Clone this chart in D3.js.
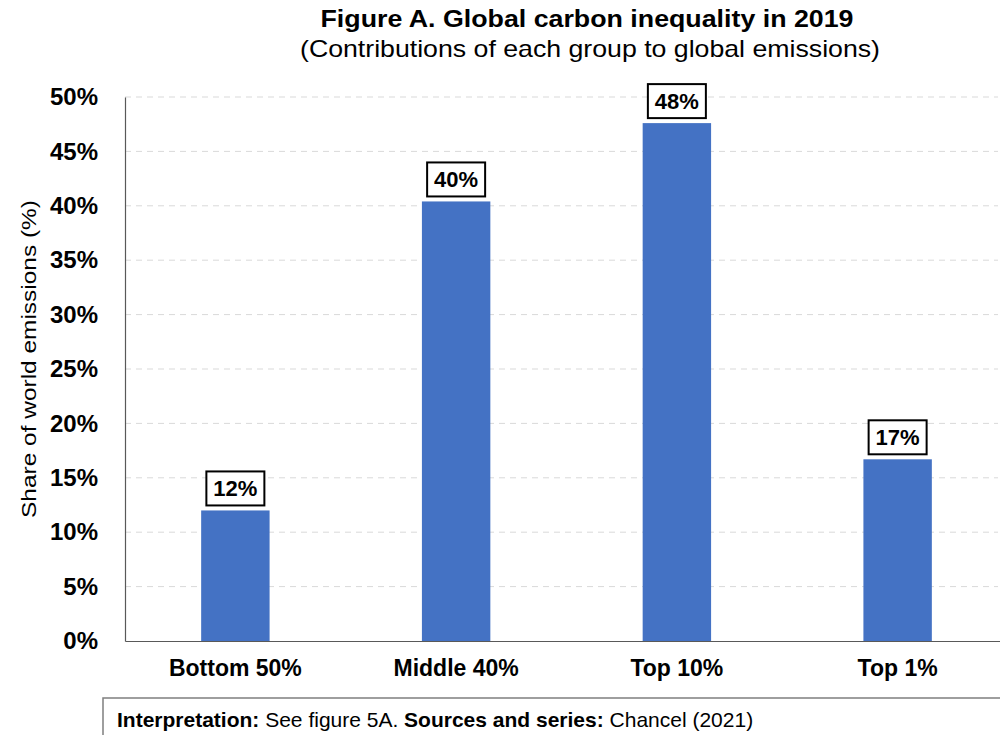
<!DOCTYPE html>
<html>
<head>
<meta charset="utf-8">
<script src="https://cdn.jsdelivr.net/npm/d3@7"></script>
<style>
  body { margin: 0; background: #fff; }
  svg { font-family: "Liberation Sans", Arial, sans-serif; }
</style>
</head>
<body>
<div id="chart"></div>
<script>
// data
var groups = ['Bottom 50%', 'Middle 40%', 'Top 10%', 'Top 1%'];
var shares = [12.0, 40.4, 47.6, 16.7];
var valueLabels = ['12%', '40%', '48%', '17%'];
var yTicks = [0, 5, 10, 15, 20, 25, 30, 35, 40, 45, 50];

var W = 1000, H = 735;
var margin = { left: 125, right: -8, top: 97, bottom: 94 };
var width = W - margin.left - margin.right,
    height = H - margin.top - margin.bottom;

var svg = d3.select('#chart').append('svg')
    .attr('width', W)
    .attr('height', H);

// titles
svg.append('text')
    .attr('x', 587).attr('y', 27)
    .attr('text-anchor', 'middle')
    .attr('font-size', '24px').attr('font-weight', 'bold')
    .attr('textLength', 533).attr('lengthAdjust', 'spacingAndGlyphs')
    .text('Figure A. Global carbon inequality in 2019');
svg.append('text')
    .attr('x', 590).attr('y', 57)
    .attr('text-anchor', 'middle')
    .attr('font-size', '24px')
    .attr('textLength', 580).attr('lengthAdjust', 'spacingAndGlyphs')
    .text('(Contributions of each group to global emissions)');

var g = svg.append('g')
    .attr('transform', 'translate(' + margin.left + ',' + margin.top + ')');

var x = d3.scaleBand()
    .domain(groups)
    .range([0, width])
    .paddingInner(0.69)
    .paddingOuter(0.345);

var y = d3.scaleLinear()
    .domain([0, 50])
    .range([height, 0]);

// grid
g.selectAll('.grid')
    .data(yTicks.filter(d => d > 0))
    .enter().append('line')
    .attr('x1', 0).attr('x2', width - 10)
    .attr('y1', d => y(d)).attr('y2', d => y(d))
    .attr('stroke', '#d9d9d9')
    .attr('stroke-width', 1)
    .attr('stroke-dasharray', '6,5');

// bars
g.selectAll('rect.bar')
    .data(shares)
    .enter().append('rect')
    .attr('class', 'bar')
    .attr('x', (d, i) => x(groups[i]))
    .attr('width', x.bandwidth())
    .attr('y', d => y(d))
    .attr('height', d => height - y(d))
    .attr('fill', '#4472c4');

// y axis
var yAxis = g.append('g')
    .call(d3.axisLeft(y).tickValues(yTicks).tickFormat(d => d + '%').tickSize(0).tickPadding(27));
yAxis.select('.domain').attr('stroke', '#595959').attr('stroke-width', 1.2);
yAxis.selectAll('text')
    .attr('font-size', '24px').attr('font-weight', 'bold')
    .attr('fill', '#000')
    .attr('font-family', '"Liberation Sans", Arial, sans-serif');

// x axis
var xAxis = g.append('g')
    .attr('transform', 'translate(0,' + height + ')')
    .call(d3.axisBottom(x).tickSize(0).tickPadding(19));
xAxis.select('.domain').attr('stroke', '#595959').attr('stroke-width', 1.2);
xAxis.selectAll('text')
    .attr('font-size', '23px').attr('font-weight', 'bold')
    .attr('fill', '#000')
    .attr('font-family', '"Liberation Sans", Arial, sans-serif');

// y label
svg.append('text')
    .attr('transform', 'translate(36,359) rotate(-90)')
    .attr('text-anchor', 'middle')
    .attr('font-size', '21px')
    .attr('textLength', 318).attr('lengthAdjust', 'spacingAndGlyphs')
    .text('Share of world emissions (%)');

// value labels in boxes
var labels = g.selectAll('g.vlabel')
    .data(shares)
    .enter().append('g')
    .attr('class', 'vlabel')
    .attr('transform', (d, i) => 'translate(' + (x(groups[i]) + x.bandwidth() / 2) + ',' + (y(d) - 5) + ')');

labels.append('rect')
    .attr('x', -29).attr('y', -34)
    .attr('width', 58).attr('height', 34)
    .attr('fill', '#fff')
    .attr('stroke', '#000')
    .attr('stroke-width', 2);

labels.append('text')
    .attr('y', -9)
    .attr('text-anchor', 'middle')
    .attr('font-size', '22px').attr('font-weight', 'bold')
    .text((d, i) => valueLabels[i]);

// note box
svg.append('rect')
    .attr('x', 103).attr('y', 698)
    .attr('width', 920).attr('height', 60)
    .attr('fill', '#fff')
    .attr('stroke', '#7f7f7f')
    .attr('stroke-width', 1.5);

var note = svg.append('text')
    .attr('x', 117).attr('y', 727)
    .attr('font-size', '21px');
note.append('tspan').attr('font-weight', 'bold').text('Interpretation:');
note.append('tspan').text(' See figure 5A. ');
note.append('tspan').attr('font-weight', 'bold').text('Sources and series:');
note.append('tspan').text(' Chancel (2021)');
</script>
</body>
</html>
